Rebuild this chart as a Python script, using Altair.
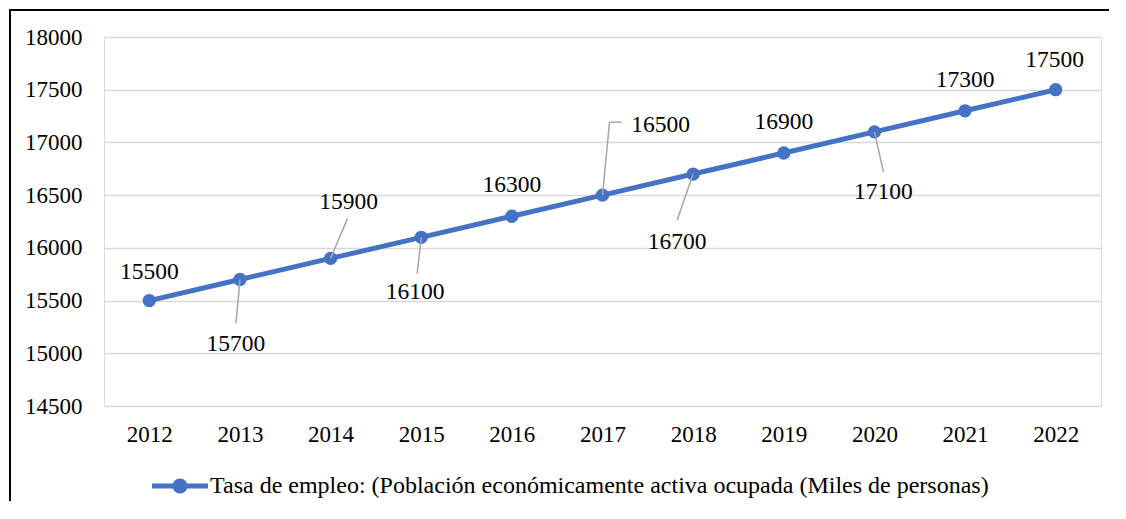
import altair as alt
import pandas as pd
import numpy as np

# ---- data ----
years = [2012, 2013, 2014, 2015, 2016, 2017, 2018, 2019, 2020, 2021, 2022]
values = [15500, 15700, 15900, 16100, 16300, 16500, 16700, 16900, 17100, 17300, 17500]
series_name = "Tasa de empleo: (Población económicamente activa ocupada (Miles de personas)"
y_ticks = [14500, 15000, 15500, 16000, 16500, 17000, 17500, 18000]

# ---- label placement (pixel offsets from each point) ----
label_dx = [0, -4, 18, -6, 0, 58, -16, 0, 9, 0, -1]
label_dy = [-29, 65, -56, 55, -31, -70, 68, -31, 60, -31, -30]
# leader segments: (point index, dx1, dy1, dx2, dy2) in pixels
leaders = [
    (1, 0, 0, -4, 44),
    (2, 0, 0, 17, -40),
    (3, 0, 0, -4, 36),
    (5, 0, 0, 7, -73),
    (5, 7, -73, 19, -73),
    (6, 0, 0, -16, 46),
    (8, 0, 0, 9, 40),
]

W, H = 997, 369
XMIN, XMAX = 2011.5, 2022.5
YMIN, YMAX = 14500, 18000
PX_X = W / (XMAX - XMIN)
PX_Y = H / (YMAX - YMIN)
PAD = {"left": 96, "top": 29, "right": 8, "bottom": 95}

BLUE = "#4472C4"
FONT = "Liberation Serif"

df = pd.DataFrame({"year": years, "value": values, "serie": series_name})
df["label"] = df["value"].astype(str)
df["lx"] = df["year"] + np.array(label_dx) / PX_X
df["ly"] = df["value"] - np.array(label_dy) / PX_Y

lead_rows = []
for i, dx1, dy1, dx2, dy2 in leaders:
    lead_rows.append({
        "x1": years[i] + dx1 / PX_X, "y1": values[i] - dy1 / PX_Y,
        "x2": years[i] + dx2 / PX_X, "y2": values[i] - dy2 / PX_Y,
    })
lead_df = pd.DataFrame(lead_rows)

xscale = alt.Scale(domain=[XMIN, XMAX], nice=False, zero=False)
yscale = alt.Scale(domain=[YMIN, YMAX], nice=False, zero=False)

x_axis = alt.Axis(values=years, format="d", title=None, grid=False, domain=False,
                  ticks=False, tickSize=0, labelPadding=17, labelFontSize=23,
                  labelFont=FONT, labelColor="#000000")
y_axis = alt.Axis(values=y_ticks, format="d", title=None, grid=True, gridColor="#D9D9D9",
                  gridWidth=1.5, domain=False, ticks=False, tickSize=0, labelPadding=22,
                  labelFontSize=23, labelFont=FONT, labelColor="#000000")

base = alt.Chart(df)

line = base.mark_line(color=BLUE, strokeWidth=5).encode(
    x=alt.X("year:Q", scale=xscale, axis=x_axis),
    y=alt.Y("value:Q", scale=yscale, axis=y_axis),
)

legend_path = ("M-1,-0.09 L1,-0.09 L1,0.09 L-1,0.09 Z "
               "M-0.268,0 A0.268,0.268 0 1 1 0.268,0 A0.268,0.268 0 1 1 -0.268,0 Z")

points = base.mark_point(filled=True, size=177, opacity=1, strokeWidth=0).encode(
    x=alt.X("year:Q", scale=xscale),
    y=alt.Y("value:Q", scale=yscale),
    color=alt.Color("serie:N", scale=alt.Scale(range=[BLUE]),
                    legend=alt.Legend(title=None, orient="none", legendX=48, legendY=421,
                                      symbolType=legend_path, symbolSize=3136,
                                      symbolStrokeWidth=0, symbolFillColor=BLUE,
                                      labelFont=FONT, labelFontSize=24, labelColor="#000000",
                                      labelLimit=0, labelOffset=2, padding=0)),
)

leader_lines = alt.Chart(lead_df).mark_rule(color="#A6A6A6", strokeWidth=1.5).encode(
    x=alt.X("x1:Q", scale=xscale),
    y=alt.Y("y1:Q", scale=yscale),
    x2="x2:Q",
    y2="y2:Q",
)

labels = base.mark_text(font=FONT, fontSize=23.5, color="#000000", align="center",
                        baseline="middle").encode(
    x=alt.X("lx:Q", scale=xscale),
    y=alt.Y("ly:Q", scale=yscale),
    text="label:N",
)

one = pd.DataFrame({"a": [0]})
border_left = alt.Chart(one).mark_rule(color="#000000", strokeWidth=2).encode(
    x=alt.value(-94), y=alt.value(-28), y2=alt.value(600))
border_top = alt.Chart(one).mark_rule(color="#000000", strokeWidth=2).encode(
    x=alt.value(-95), x2=alt.value(1050), y=alt.value(-27))
edge_x = W + PAD["right"] - 1
edge_mask = alt.Chart(one).mark_rule(color="#FFFFFF", strokeWidth=4).encode(
    x=alt.value(edge_x), y=alt.value(-26), y2=alt.value(600))

chart = alt.layer(line, points, leader_lines, labels, border_left, border_top,
                  edge_mask).properties(
    width=W, height=H,
    autosize="none",
    padding=PAD,
).configure_view(stroke=None).configure(font=FONT, background="#FFFFFF")

chart.save("out.html", embed_options={"renderer": "svg", "actions": False})
